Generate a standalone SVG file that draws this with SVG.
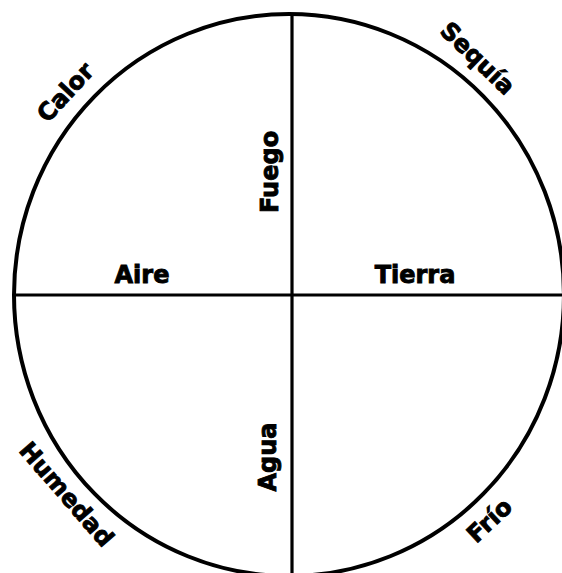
<svg xmlns="http://www.w3.org/2000/svg" width="562" height="573" viewBox="0 0 562 573">
<style>
.lbl{font-family:"DejaVu Sans","Liberation Sans",sans-serif;font-weight:bold;font-size:24px;fill:#000;stroke:#000;stroke-width:0.9;text-anchor:middle}
.ln{stroke:#000;stroke-width:3.2;fill:none}
</style>
<rect width="562" height="573" fill="#fff"/>
<g id="circle"><ellipse cx="289" cy="295" rx="275" ry="281" fill="none" stroke="#000" stroke-width="4"/></g>
<g id="connectors">
<line class="ln" x1="292" y1="15" x2="292" y2="573"/>
<line class="ln" x1="14" y1="295" x2="562" y2="295"/>
</g>
<g id="calor"><text class="lbl" transform="translate(65,92) rotate(-47)" y="8.7">Calor</text></g>
<g id="sequia"><text class="lbl" transform="translate(478,58) rotate(44)" y="8.7">Sequía</text></g>
<g id="humedad"><text class="lbl" transform="translate(67,494) rotate(49)" y="8.7">Humedad</text></g>
<g id="frio"><text class="lbl" transform="translate(489,520) rotate(-43)" y="8.7">Frío</text></g>
<g id="fuego"><text class="lbl" transform="translate(269,172) rotate(-90)" y="8.7">Fuego</text></g>
<g id="agua"><text class="lbl" transform="translate(267,457) rotate(-90)" y="8.7">Agua</text></g>
<g id="aire"><text class="lbl" x="142" y="283">Aire</text></g>
<g id="tierra"><text class="lbl" x="415" y="283">Tierra</text></g>
</svg>
